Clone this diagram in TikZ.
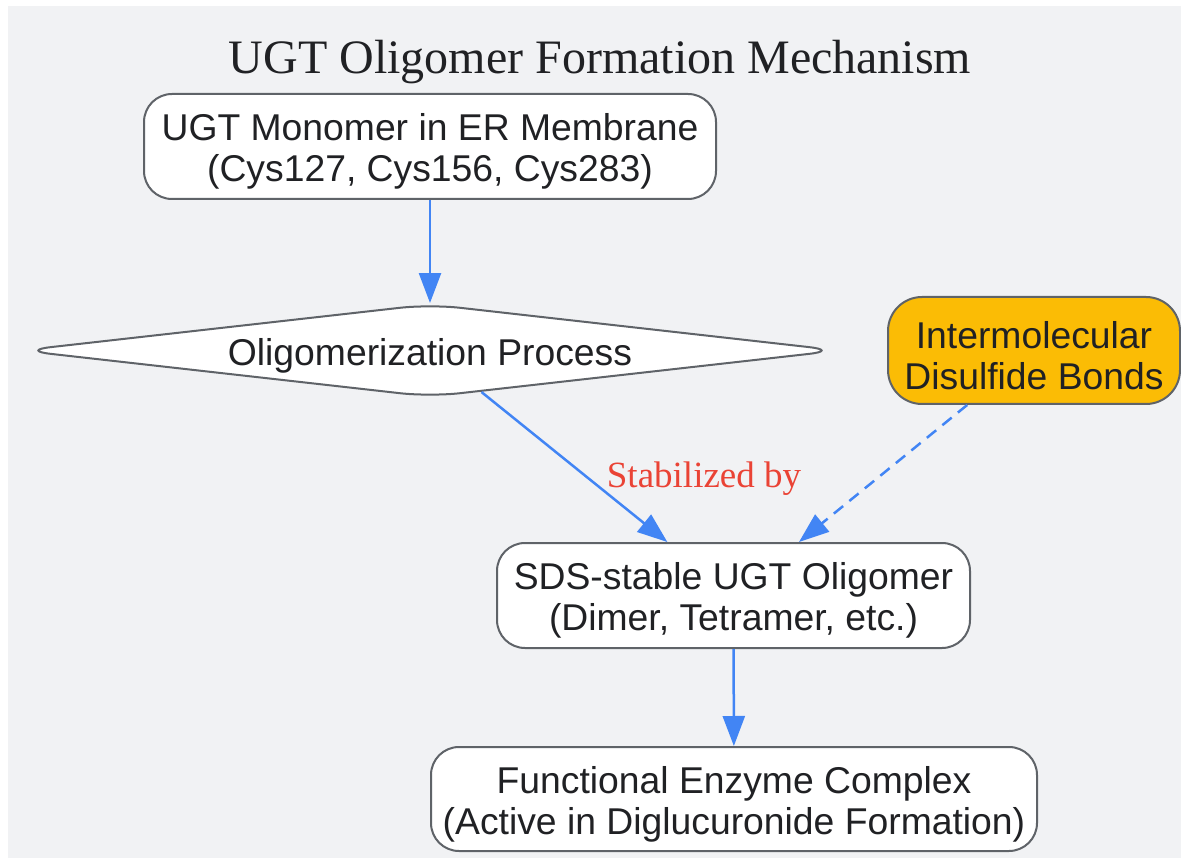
\documentclass[tikz,border=0pt]{standalone}
\usepackage{fontspec}
\setmainfont{Liberation Serif}
\setsansfont{Liberation Sans}
\usetikzlibrary{arrows.meta,shapes.geometric}
\definecolor{bg}{HTML}{F1F2F4}
\definecolor{edgeblue}{HTML}{4285F4}
\definecolor{bordergray}{HTML}{5F6368}
\definecolor{txt}{HTML}{202124}
\definecolor{yel}{HTML}{FBBC05}
\definecolor{lab}{HTML}{EA4335}
\tikzset{
  box/.style={draw=bordergray, line width=2pt, fill=white, rounded corners=28pt,
    inner sep=0pt},
  boxtext/.style={align=center, text=txt, inner sep=0pt, yshift=-5pt,
    font=\sffamily\fontsize{37.3}{41}\selectfont},
  decision/.style={diamond, draw=bordergray, line width=2pt, fill=white,
    rounded corners=30pt, aspect=8.43, inner sep=0pt},
  arr/.style={draw=edgeblue, line width=2.5pt, -{Triangle[length=30pt,width=22pt]}},
  dasharr/.style={arr, dash pattern=on 12pt off 8pt},
}
\begin{document}
\begin{tikzpicture}[x=1pt,y=-1pt]
\useasboundingbox (0,0) rectangle (1181,858);
\fill[white] (0,0) rectangle (1181,858);
\fill[bg] (8,6) rectangle (1181,858);
\node[anchor=base, text=txt, font=\rmfamily\fontsize{48}{52}\selectfont] (title) at (600,74) {UGT Oligomer Formation Mechanism};
\node[box, minimum width=572pt, minimum height=105pt] (mono) at (430,146.5) {};
\node[boxtext] (monot) at (mono.center) {UGT Monomer in ER Membrane\\(Cys127, Cys156, Cys283)};
\node[decision, minimum width=819pt, minimum height=93pt] (proc) at (430,350.5) {};
\node[boxtext] (proct) at (proc.center) {Oligomerization Process};
\node[box, fill=yel, rounded corners=34pt, minimum width=292pt, minimum height=107pt] (ssb) at (1034,350.5) {};
\node[boxtext] (ssbt) at (ssb.center) {Intermolecular\\Disulfide Bonds};
\node[box, minimum width=473pt, minimum height=105pt] (sds) at (733.5,595.5) {};
\node[boxtext] (sdst) at (sds.center) {SDS-stable UGT Oligomer\\(Dimer, Tetramer, etc.)};
\node[box, minimum width=606pt, minimum height=104pt] (func) at (734,799) {};
\node[boxtext] (funct) at (func.center) {Functional Enzyme Complex\\(Active in Diglucuronide Formation)};
\draw[arr] (mono) -- (proc);
\draw[arr] (proc) -- (sds);
\draw[dasharr] (ssb) -- (sds);
\draw[arr] (sds) -- (func);
\node[text=lab, font=\rmfamily\fontsize{37}{41}\selectfont, anchor=base] (stab) at (704,487) {Stabilized by};
\end{tikzpicture}
\end{document}
